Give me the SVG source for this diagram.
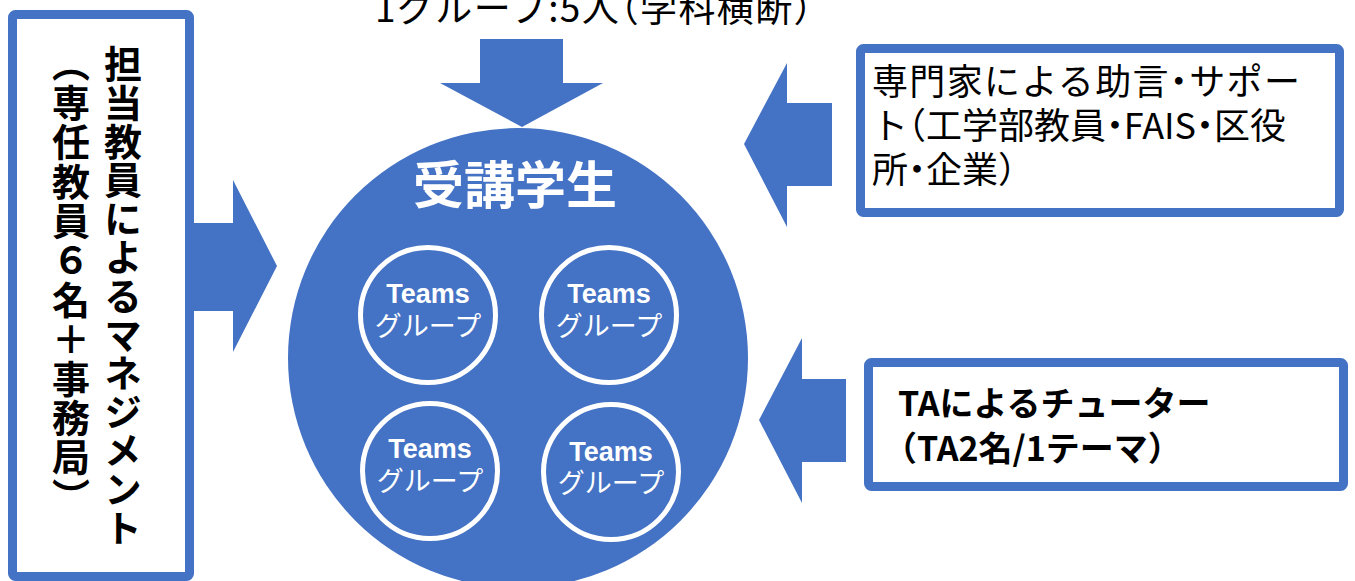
<svg xmlns="http://www.w3.org/2000/svg" width="1355" height="581" viewBox="0 0 1355 581">
<style>
.jp{font-family:"Noto Sans CJK JP","Liberation Sans",sans-serif;}
.halt{font-feature-settings:"halt" 1;}
.box{fill:#ffffff;stroke:#4472C4;stroke-width:9;}
.arrow{fill:#4472C4;stroke:none;}
.sub{fill:none;stroke:#ffffff;stroke-width:5;}
.teams{font-family:"Liberation Sans","Noto Sans CJK JP",sans-serif;font-weight:bold;font-size:27px;fill:#ffffff;text-anchor:middle;}
.grp{font-family:"Noto Sans CJK JP",sans-serif;font-size:27px;fill:#ffffff;text-anchor:middle;}
.vert{font-family:"Noto Sans CJK JP",sans-serif;font-weight:bold;font-size:38px;fill:#000000;writing-mode:vertical-rl;}
</style>
<rect width="1355" height="581" fill="#ffffff"/>
<g id="title">
<text class="jp halt" x="375" y="22" font-size="37" fill="#000000" textLength="437">1グループ:5人（学科横断）</text>
</g>
<g id="connectors">
<polygon class="arrow" points="194,223 233,223 233,180 277,266 233,352 233,311 194,311"/>
<polygon class="arrow" points="480,39 563,39 563,83 603,83 522,127 440,83 480,83"/>
<polygon class="arrow" points="832,103 787,103 787,63 744,144 787,227 787,186 832,186"/>
<polygon class="arrow" points="846,379 802,379 802,338 759,420 802,503 802,462 846,462"/>
</g>
<g id="management">
<rect class="box" x="12.5" y="14.5" width="177" height="562" rx="3"/>
<text class="vert" x="123" y="45" letter-spacing="0.6">担当教員によるマネジメント</text>
<text class="vert" x="71" y="44" letter-spacing="1.4">（専任教員６名＋事務局）</text>
</g>
<g id="students">
<circle cx="518" cy="358" r="230" fill="#4472C4"/>
<text class="jp" x="515" y="204" font-size="51" font-weight="bold" fill="#ffffff" text-anchor="middle">受講学生</text>
</g>
<g id="team1">
<circle class="sub" cx="428" cy="315" r="67.5"/>
<text class="teams" x="428" y="303">Teams</text>
<text class="grp" x="428" y="336">グループ</text>
</g>
<g id="team2">
<circle class="sub" cx="609" cy="315" r="67.5"/>
<text class="teams" x="609" y="303">Teams</text>
<text class="grp" x="609" y="336">グループ</text>
</g>
<g id="team3">
<circle class="sub" cx="430" cy="471" r="67.5"/>
<text class="teams" x="430" y="458">Teams</text>
<text class="grp" x="430" y="491">グループ</text>
</g>
<g id="team4">
<circle class="sub" cx="611" cy="472" r="67.5"/>
<text class="teams" x="611" y="461">Teams</text>
<text class="grp" x="611" y="493">グループ</text>
</g>
<g id="experts">
<rect class="box" x="860.5" y="48.5" width="479" height="164" rx="3"/>
<text class="jp halt" font-size="36" fill="#000000">
<tspan x="872" y="95" textLength="428">専門家による助言・サポー</tspan>
<tspan x="872" y="139" textLength="414">ト（工学部教員・FAIS・区役</tspan>
<tspan x="872" y="183">所・企業）</tspan>
</text>
</g>
<g id="ta">
<rect class="box" x="868.5" y="362.5" width="475" height="124" rx="3"/>
<text class="jp" font-size="34" font-weight="bold" fill="#000000">
<tspan x="898" y="416">TAによるチューター</tspan>
<tspan x="883" y="461">（TA2名/1テーマ）</tspan>
</text>
</g>
</svg>
